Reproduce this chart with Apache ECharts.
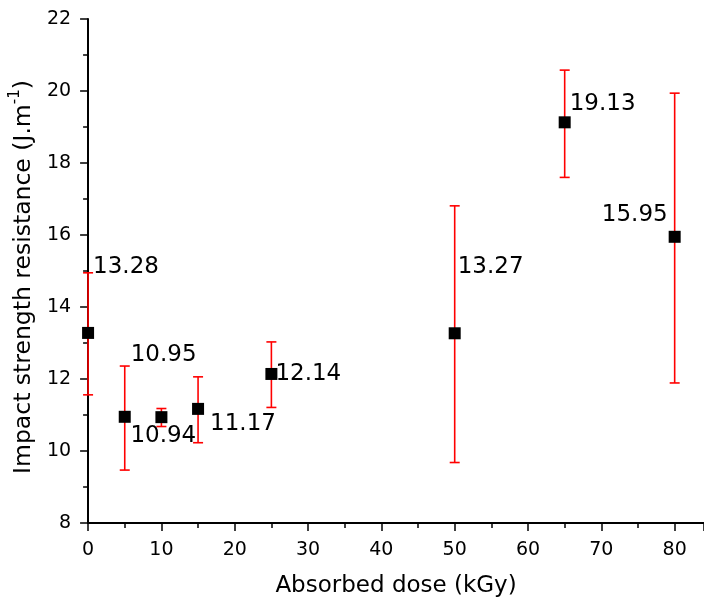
<!DOCTYPE html>
<html>
<head>
<meta charset="utf-8">
<script src="https://cdn.jsdelivr.net/npm/echarts@6/dist/echarts.min.js"></script>
<style>html,body{margin:0;padding:0;background:#fff}#c{width:704px;height:603px}</style>
</head>
<body>
<div id="c"></div>
<script>
const doses = [0, 5, 10, 15, 25, 50, 65, 80];
const impact = [13.28, 10.95, 10.94, 11.17, 12.14, 13.27, 19.13, 15.95];
const errUpper = [14.95, 12.36, 11.18, 12.06, 13.03, 16.81, 20.58, 19.94];
const errLower = [11.56, 9.47, 10.68, 10.23, 11.21, 9.68, 17.60, 11.89];
const valueLabels = ['13.28', '10.95', '10.94', '11.17', '12.14', '13.27', '19.13', '15.95'];
const xTicks = { min: 0, max: 84, interval: 10 };
const yTicks = { min: 8, max: 22, interval: 2 };

// label placement (style only): [dx, dy, align]
const labelPlace = [[5, -66, 'left'], [6, -62, 'left'], [-31, 19, 'left'], [12, 15, 'left'],
  [4, 0, 'left'], [3, -66, 'left'], [5, -18, 'left'], [-7, -22, 'right']];

const data = doses.map((d, i) => [d, impact[i], errLower[i], errUpper[i], i]);

const chart = echarts.init(document.getElementById('c'), null, { renderer: 'canvas' });
const font = 'DejaVu Sans, sans-serif';
chart.setOption({
  animation: false,
  grid: { left: 88, right: 0, top: 19, bottom: 80, containLabel: false },
  xAxis: {
    type: 'value', min: xTicks.min, max: xTicks.max, interval: xTicks.interval,
    name: 'Absorbed dose (kGy)', nameLocation: 'middle', nameGap: 52,
    nameTextStyle: { fontFamily: font, fontSize: 23, color: '#000' },
    axisLine: { lineStyle: { color: '#000', width: 2 } },
    axisTick: { length: 8, lineStyle: { color: '#000', width: 1.5 } },
    minorTick: { show: true, splitNumber: 2, length: 5, lineStyle: { color: '#000', width: 1.5 } },
    axisLabel: { fontFamily: font, fontSize: 19, color: '#000', margin: 18, showMaxLabel: false },
    splitLine: { show: false }
  },
  yAxis: {
    type: 'value', min: yTicks.min, max: yTicks.max, interval: yTicks.interval,
    name: '{n|Impact strength resistance (J.m}{s|-1}{n|)}', nameLocation: 'middle', nameGap: 52,
    nameTextStyle: {
      fontFamily: font, fontSize: 24, color: '#000', padding: [0, 12, 0, 0],
      rich: {
        n: { fontFamily: font, fontSize: 23.5, color: '#000', lineHeight: 28, verticalAlign: 'bottom' },
        s: { fontFamily: font, fontSize: 15, color: '#000', lineHeight: 28, verticalAlign: 'top' }
      }
    },
    axisLine: { lineStyle: { color: '#000', width: 2 } },
    axisTick: { length: 8, lineStyle: { color: '#000', width: 1.5 } },
    minorTick: { show: true, splitNumber: 2, length: 5, lineStyle: { color: '#000', width: 1.5 } },
    axisLabel: { fontFamily: font, fontSize: 19, color: '#000', margin: 17 },
    splitLine: { show: false }
  },
  series: [{
    type: 'custom',
    clip: false,
    data: data,
    renderItem: function (params, api) {
      const x = api.value(0), y = api.value(1), lo = api.value(2), hi = api.value(3), i = api.value(4);
      const p = api.coord([x, y]);
      const pt = api.coord([x, hi]);
      const pb = api.coord([x, lo]);
      const cap = 5;
      const red = { stroke: '#ff0000', lineWidth: 1.6 };
      const lp = labelPlace[i];
      return {
        type: 'group',
        children: [
          { type: 'line', shape: { x1: p[0], y1: pt[1], x2: p[0], y2: pb[1] }, style: red },
          { type: 'line', shape: { x1: p[0] - cap, y1: pt[1], x2: p[0] + cap, y2: pt[1] }, style: red },
          { type: 'line', shape: { x1: p[0] - cap, y1: pb[1], x2: p[0] + cap, y2: pb[1] }, style: red },
          { type: 'rect', shape: { x: p[0] - 6, y: p[1] - 6, width: 12, height: 12 }, style: { fill: '#000' } },
          { type: 'text', x: p[0] + lp[0], y: p[1] + lp[1],
            style: { text: valueLabels[i], fontFamily: font, fontSize: 23, fill: '#000',
              align: lp[2], verticalAlign: 'middle' } }
        ]
      };
    }
  }]
});
</script>
</body>
</html>
